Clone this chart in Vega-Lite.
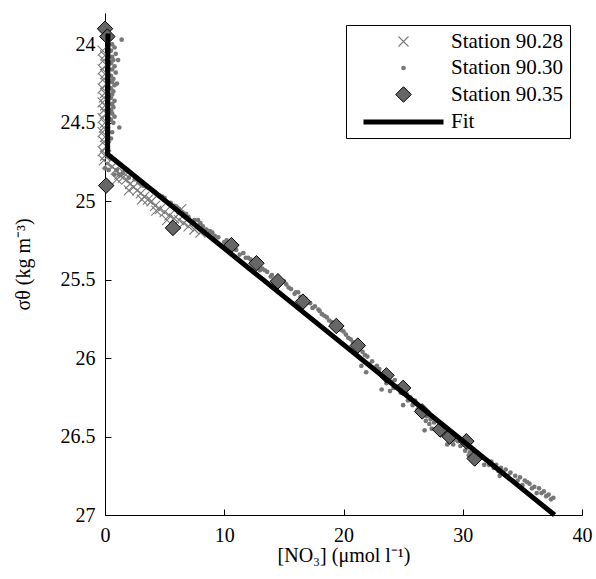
{
  "$schema": "https://vega.github.io/schema/vega-lite/v6.json",
  "width": 477,
  "height": 502,
  "autosize": {"type": "none"},
  "padding": {"left": 105, "top": 13, "right": 14, "bottom": 64},
  "background": "white",
  "config": {
    "view": {"stroke": null},
    "font": "Liberation Serif",
    "style": {
      "guide-label": {"font": "Liberation Serif", "fontSize": 20, "fill": "black"},
      "guide-title": {"font": "Liberation Serif", "fontSize": 20, "fill": "black", "fontWeight": "normal"}
    },
    "axis": {
      "grid": false,
      "domainColor": "black",
      "tickColor": "black",
      "labelColor": "black",
      "titleColor": "black",
      "labelFont": "Liberation Serif",
      "titleFont": "Liberation Serif",
      "labelFontSize": 20,
      "titleFontSize": 20,
      "titleFontWeight": "normal",
      "tickSize": -6,
      "domainWidth": 1,
      "tickWidth": 1
    },
    "legend": {
      "orient": "top-right",
      "offset": 12,
      "padding": 6,
      "strokeColor": "black",
      "fillColor": "white",
      "labelFont": "Liberation Serif",
      "labelFontSize": 21,
      "labelColor": "black",
      "labelLimit": 0,
      "rowPadding": 4.5,
      "symbolOffset": 39,
      "labelOffset": 35,
      "symbolOpacity": 1
    }
  },
  "datasets": {
    "points": [
      {"series": "Station 90.28", "no3": -0.2, "sigma": 24.04},
      {"series": "Station 90.28", "no3": 0.0, "sigma": 24.07},
      {"series": "Station 90.28", "no3": -0.1, "sigma": 24.10},
      {"series": "Station 90.28", "no3": 0.1, "sigma": 24.13},
      {"series": "Station 90.28", "no3": -0.2, "sigma": 24.16},
      {"series": "Station 90.28", "no3": 0.0, "sigma": 24.19},
      {"series": "Station 90.28", "no3": -0.1, "sigma": 24.22},
      {"series": "Station 90.28", "no3": 0.1, "sigma": 24.25},
      {"series": "Station 90.28", "no3": -0.2, "sigma": 24.28},
      {"series": "Station 90.28", "no3": 0.0, "sigma": 24.31},
      {"series": "Station 90.28", "no3": -0.1, "sigma": 24.34},
      {"series": "Station 90.28", "no3": -0.2, "sigma": 24.37},
      {"series": "Station 90.28", "no3": 0.0, "sigma": 24.39},
      {"series": "Station 90.28", "no3": -0.1, "sigma": 24.42},
      {"series": "Station 90.28", "no3": 0.1, "sigma": 24.44},
      {"series": "Station 90.28", "no3": -0.2, "sigma": 24.47},
      {"series": "Station 90.28", "no3": 0.0, "sigma": 24.50},
      {"series": "Station 90.28", "no3": -0.1, "sigma": 24.53},
      {"series": "Station 90.28", "no3": -0.2, "sigma": 24.56},
      {"series": "Station 90.28", "no3": 0.0, "sigma": 24.59},
      {"series": "Station 90.28", "no3": -0.1, "sigma": 24.62},
      {"series": "Station 90.28", "no3": 0.1, "sigma": 24.65},
      {"series": "Station 90.28", "no3": -0.2, "sigma": 24.68},
      {"series": "Station 90.28", "no3": 0.0, "sigma": 24.71},
      {"series": "Station 90.28", "no3": -0.1, "sigma": 24.74},
      {"series": "Station 90.28", "no3": 0.2, "sigma": 24.76},
      {"series": "Station 90.28", "no3": 0.6, "sigma": 24.78},
      {"series": "Station 90.28", "no3": 0.9, "sigma": 24.80},
      {"series": "Station 90.28", "no3": 1.2, "sigma": 24.83},
      {"series": "Station 90.28", "no3": 1.5, "sigma": 24.85},
      {"series": "Station 90.28", "no3": 1.8, "sigma": 24.86},
      {"series": "Station 90.28", "no3": 2.1, "sigma": 24.89},
      {"series": "Station 90.28", "no3": 2.4, "sigma": 24.91},
      {"series": "Station 90.28", "no3": 2.7, "sigma": 24.93},
      {"series": "Station 90.28", "no3": 3.0, "sigma": 24.95},
      {"series": "Station 90.28", "no3": 3.3, "sigma": 24.97},
      {"series": "Station 90.28", "no3": 3.6, "sigma": 24.99},
      {"series": "Station 90.28", "no3": 3.9, "sigma": 25.00},
      {"series": "Station 90.28", "no3": 4.2, "sigma": 25.03},
      {"series": "Station 90.28", "no3": 4.6, "sigma": 25.05},
      {"series": "Station 90.28", "no3": 5.0, "sigma": 25.07},
      {"series": "Station 90.28", "no3": 5.4, "sigma": 25.09},
      {"series": "Station 90.28", "no3": 5.8, "sigma": 25.11},
      {"series": "Station 90.28", "no3": 6.2, "sigma": 25.12},
      {"series": "Station 90.28", "no3": 6.6, "sigma": 25.14},
      {"series": "Station 90.28", "no3": 7.0, "sigma": 25.16},
      {"series": "Station 90.28", "no3": 7.5, "sigma": 25.18},
      {"series": "Station 90.28", "no3": 8.0, "sigma": 25.20},
      {"series": "Station 90.28", "no3": 1.0, "sigma": 24.86},
      {"series": "Station 90.28", "no3": 2.0, "sigma": 24.93},
      {"series": "Station 90.28", "no3": 3.1, "sigma": 24.99},
      {"series": "Station 90.28", "no3": 4.3, "sigma": 25.06},
      {"series": "Station 90.28", "no3": 5.2, "sigma": 25.12},
      {"series": "Station 90.28", "no3": 6.4, "sigma": 25.05},
      {"series": "Station 90.28", "no3": 1.6, "sigma": 24.82},
      {"series": "Station 90.30", "no3": 0.5, "sigma": 23.96},
      {"series": "Station 90.30", "no3": 1.4, "sigma": 23.97},
      {"series": "Station 90.30", "no3": 0.6, "sigma": 24.00},
      {"series": "Station 90.30", "no3": 0.8, "sigma": 24.02},
      {"series": "Station 90.30", "no3": 0.5, "sigma": 24.04},
      {"series": "Station 90.30", "no3": 0.9, "sigma": 24.06},
      {"series": "Station 90.30", "no3": 0.6, "sigma": 24.08},
      {"series": "Station 90.30", "no3": 0.7, "sigma": 24.10},
      {"series": "Station 90.30", "no3": 0.5, "sigma": 24.12},
      {"series": "Station 90.30", "no3": 0.8, "sigma": 24.14},
      {"series": "Station 90.30", "no3": 0.6, "sigma": 24.16},
      {"series": "Station 90.30", "no3": 0.9, "sigma": 24.18},
      {"series": "Station 90.30", "no3": 0.5, "sigma": 24.20},
      {"series": "Station 90.30", "no3": 0.7, "sigma": 24.22},
      {"series": "Station 90.30", "no3": 0.6, "sigma": 24.24},
      {"series": "Station 90.30", "no3": 0.8, "sigma": 24.26},
      {"series": "Station 90.30", "no3": 0.5, "sigma": 24.28},
      {"series": "Station 90.30", "no3": 0.7, "sigma": 24.30},
      {"series": "Station 90.30", "no3": 0.6, "sigma": 24.32},
      {"series": "Station 90.30", "no3": 0.5, "sigma": 24.34},
      {"series": "Station 90.30", "no3": 0.8, "sigma": 24.36},
      {"series": "Station 90.30", "no3": 0.6, "sigma": 24.38},
      {"series": "Station 90.30", "no3": 0.7, "sigma": 24.40},
      {"series": "Station 90.30", "no3": 0.5, "sigma": 24.42},
      {"series": "Station 90.30", "no3": 0.6, "sigma": 24.44},
      {"series": "Station 90.30", "no3": 0.8, "sigma": 24.46},
      {"series": "Station 90.30", "no3": 0.5, "sigma": 24.48},
      {"series": "Station 90.30", "no3": 0.7, "sigma": 24.50},
      {"series": "Station 90.30", "no3": 1.2, "sigma": 24.53},
      {"series": "Station 90.30", "no3": 0.6, "sigma": 24.56},
      {"series": "Station 90.30", "no3": 0.5, "sigma": 24.60},
      {"series": "Station 90.30", "no3": 1.1, "sigma": 24.10},
      {"series": "Station 90.30", "no3": 1.0, "sigma": 24.25},
      {"series": "Station 90.30", "no3": 0.0, "sigma": 24.79},
      {"series": "Station 90.30", "no3": 0.3, "sigma": 24.80},
      {"series": "Station 90.30", "no3": 0.8, "sigma": 24.83},
      {"series": "Station 90.30", "no3": 1.0, "sigma": 24.80},
      {"series": "Station 90.30", "no3": 1.5, "sigma": 24.82},
      {"series": "Station 90.30", "no3": 2.0, "sigma": 24.85},
      {"series": "Station 90.30", "no3": 2.5, "sigma": 24.86},
      {"series": "Station 90.30", "no3": 3.0, "sigma": 24.89},
      {"series": "Station 90.30", "no3": 3.5, "sigma": 24.91},
      {"series": "Station 90.30", "no3": 4.0, "sigma": 24.93},
      {"series": "Station 90.30", "no3": 4.5, "sigma": 24.96},
      {"series": "Station 90.30", "no3": 5.0, "sigma": 24.98},
      {"series": "Station 90.30", "no3": 5.5, "sigma": 25.01},
      {"series": "Station 90.30", "no3": 6.0, "sigma": 25.04},
      {"series": "Station 90.30", "no3": 6.5, "sigma": 25.07},
      {"series": "Station 90.30", "no3": 7.0, "sigma": 25.10},
      {"series": "Station 90.30", "no3": 7.5, "sigma": 25.12},
      {"series": "Station 90.30", "no3": 8.0, "sigma": 25.14},
      {"series": "Station 90.30", "no3": 8.5, "sigma": 25.18},
      {"series": "Station 90.30", "no3": 9.0, "sigma": 25.20},
      {"series": "Station 90.30", "no3": 9.5, "sigma": 25.23},
      {"series": "Station 90.30", "no3": 10.0, "sigma": 25.26},
      {"series": "Station 90.30", "no3": 10.5, "sigma": 25.28},
      {"series": "Station 90.30", "no3": 11.0, "sigma": 25.31},
      {"series": "Station 90.30", "no3": 11.3, "sigma": 25.34},
      {"series": "Station 90.30", "no3": 11.6, "sigma": 25.33},
      {"series": "Station 90.30", "no3": 12.0, "sigma": 25.36},
      {"series": "Station 90.30", "no3": 12.4, "sigma": 25.39},
      {"series": "Station 90.30", "no3": 12.8, "sigma": 25.41},
      {"series": "Station 90.30", "no3": 13.2, "sigma": 25.43},
      {"series": "Station 90.30", "no3": 13.6, "sigma": 25.45},
      {"series": "Station 90.30", "no3": 14.0, "sigma": 25.47},
      {"series": "Station 90.30", "no3": 14.4, "sigma": 25.49},
      {"series": "Station 90.30", "no3": 14.8, "sigma": 25.51},
      {"series": "Station 90.30", "no3": 15.2, "sigma": 25.53},
      {"series": "Station 90.30", "no3": 15.6, "sigma": 25.56},
      {"series": "Station 90.30", "no3": 16.0, "sigma": 25.58},
      {"series": "Station 90.30", "no3": 16.4, "sigma": 25.61},
      {"series": "Station 90.30", "no3": 16.8, "sigma": 25.62},
      {"series": "Station 90.30", "no3": 17.2, "sigma": 25.65},
      {"series": "Station 90.30", "no3": 17.6, "sigma": 25.67},
      {"series": "Station 90.30", "no3": 18.0, "sigma": 25.70},
      {"series": "Station 90.30", "no3": 18.4, "sigma": 25.73},
      {"series": "Station 90.30", "no3": 18.8, "sigma": 25.76},
      {"series": "Station 90.30", "no3": 19.2, "sigma": 25.78},
      {"series": "Station 90.30", "no3": 19.6, "sigma": 25.80},
      {"series": "Station 90.30", "no3": 20.0, "sigma": 25.83},
      {"series": "Station 90.30", "no3": 20.4, "sigma": 25.87},
      {"series": "Station 90.30", "no3": 20.8, "sigma": 25.90},
      {"series": "Station 90.30", "no3": 21.2, "sigma": 25.93},
      {"series": "Station 90.30", "no3": 21.6, "sigma": 25.96},
      {"series": "Station 90.30", "no3": 21.5, "sigma": 26.05},
      {"series": "Station 90.30", "no3": 21.9, "sigma": 26.09},
      {"series": "Station 90.30", "no3": 22.0, "sigma": 25.99},
      {"series": "Station 90.30", "no3": 22.4, "sigma": 26.02},
      {"series": "Station 90.30", "no3": 22.8, "sigma": 26.05},
      {"series": "Station 90.30", "no3": 23.0, "sigma": 26.07},
      {"series": "Station 90.30", "no3": 23.2, "sigma": 26.20},
      {"series": "Station 90.30", "no3": 23.4, "sigma": 26.09},
      {"series": "Station 90.30", "no3": 23.8, "sigma": 26.11},
      {"series": "Station 90.30", "no3": 23.9, "sigma": 26.21},
      {"series": "Station 90.30", "no3": 24.0, "sigma": 26.15},
      {"series": "Station 90.30", "no3": 24.3, "sigma": 26.14},
      {"series": "Station 90.30", "no3": 24.6, "sigma": 26.18},
      {"series": "Station 90.30", "no3": 25.0, "sigma": 26.30},
      {"series": "Station 90.30", "no3": 25.0, "sigma": 26.21},
      {"series": "Station 90.30", "no3": 25.3, "sigma": 26.23},
      {"series": "Station 90.30", "no3": 25.6, "sigma": 26.25},
      {"series": "Station 90.30", "no3": 26.0, "sigma": 26.27},
      {"series": "Station 90.30", "no3": 26.3, "sigma": 26.31},
      {"series": "Station 90.30", "no3": 26.6, "sigma": 26.35},
      {"series": "Station 90.30", "no3": 26.8, "sigma": 26.46},
      {"series": "Station 90.30", "no3": 27.0, "sigma": 26.37},
      {"series": "Station 90.30", "no3": 27.3, "sigma": 26.39},
      {"series": "Station 90.30", "no3": 27.4, "sigma": 26.45},
      {"series": "Station 90.30", "no3": 27.6, "sigma": 26.41},
      {"series": "Station 90.30", "no3": 28.0, "sigma": 26.44},
      {"series": "Station 90.30", "no3": 28.3, "sigma": 26.46},
      {"series": "Station 90.30", "no3": 28.6, "sigma": 26.48},
      {"series": "Station 90.30", "no3": 28.7, "sigma": 26.55},
      {"series": "Station 90.30", "no3": 29.0, "sigma": 26.50},
      {"series": "Station 90.30", "no3": 29.3, "sigma": 26.52},
      {"series": "Station 90.30", "no3": 29.6, "sigma": 26.53},
      {"series": "Station 90.30", "no3": 30.0, "sigma": 26.55},
      {"series": "Station 90.30", "no3": 30.4, "sigma": 26.57},
      {"series": "Station 90.30", "no3": 30.5, "sigma": 26.62},
      {"series": "Station 90.30", "no3": 30.8, "sigma": 26.59},
      {"series": "Station 90.30", "no3": 31.2, "sigma": 26.61},
      {"series": "Station 90.30", "no3": 31.6, "sigma": 26.63},
      {"series": "Station 90.30", "no3": 31.8, "sigma": 26.68},
      {"series": "Station 90.30", "no3": 32.0, "sigma": 26.65},
      {"series": "Station 90.30", "no3": 32.4, "sigma": 26.66},
      {"series": "Station 90.30", "no3": 32.8, "sigma": 26.68},
      {"series": "Station 90.30", "no3": 33.1, "sigma": 26.75},
      {"series": "Station 90.30", "no3": 33.2, "sigma": 26.70},
      {"series": "Station 90.30", "no3": 33.6, "sigma": 26.71},
      {"series": "Station 90.30", "no3": 34.0, "sigma": 26.73},
      {"series": "Station 90.30", "no3": 34.2, "sigma": 26.78},
      {"series": "Station 90.30", "no3": 34.4, "sigma": 26.75},
      {"series": "Station 90.30", "no3": 34.8, "sigma": 26.76},
      {"series": "Station 90.30", "no3": 35.0, "sigma": 26.81},
      {"series": "Station 90.30", "no3": 35.2, "sigma": 26.78},
      {"series": "Station 90.30", "no3": 35.6, "sigma": 26.80},
      {"series": "Station 90.30", "no3": 36.0, "sigma": 26.82},
      {"series": "Station 90.30", "no3": 36.2, "sigma": 26.86},
      {"series": "Station 90.30", "no3": 36.4, "sigma": 26.83},
      {"series": "Station 90.30", "no3": 36.8, "sigma": 26.85},
      {"series": "Station 90.30", "no3": 37.2, "sigma": 26.87},
      {"series": "Station 90.30", "no3": 37.6, "sigma": 26.89},
      {"series": "Station 90.30", "no3": 10.2, "sigma": 25.25},
      {"series": "Station 90.30", "no3": 10.8, "sigma": 25.30},
      {"series": "Station 90.30", "no3": 11.8, "sigma": 25.36},
      {"series": "Station 90.30", "no3": 12.2, "sigma": 25.37},
      {"series": "Station 90.30", "no3": 13.0, "sigma": 25.44},
      {"series": "Station 90.30", "no3": 13.4, "sigma": 25.44},
      {"series": "Station 90.30", "no3": 13.9, "sigma": 25.48},
      {"series": "Station 90.30", "no3": 14.6, "sigma": 25.52},
      {"series": "Station 90.30", "no3": 15.0, "sigma": 25.51},
      {"series": "Station 90.30", "no3": 15.4, "sigma": 25.55},
      {"series": "Station 90.30", "no3": 15.9, "sigma": 25.59},
      {"series": "Station 90.30", "no3": 16.2, "sigma": 25.58},
      {"series": "Station 90.30", "no3": 17.0, "sigma": 25.64},
      {"series": "Station 90.30", "no3": 17.4, "sigma": 25.68},
      {"series": "Station 90.30", "no3": 17.9, "sigma": 25.69},
      {"series": "Station 90.30", "no3": 18.2, "sigma": 25.72},
      {"series": "Station 90.30", "no3": 18.6, "sigma": 25.74},
      {"series": "Station 90.30", "no3": 19.0, "sigma": 25.77},
      {"series": "Station 90.30", "no3": 19.8, "sigma": 25.82},
      {"series": "Station 90.30", "no3": 20.2, "sigma": 25.85},
      {"series": "Station 90.30", "no3": 20.6, "sigma": 25.88},
      {"series": "Station 90.30", "no3": 21.0, "sigma": 25.92},
      {"series": "Station 90.30", "no3": 21.8, "sigma": 25.98},
      {"series": "Station 90.30", "no3": 22.2, "sigma": 26.04},
      {"series": "Station 90.30", "no3": 22.6, "sigma": 26.06},
      {"series": "Station 90.30", "no3": 23.6, "sigma": 26.16},
      {"series": "Station 90.30", "no3": 24.2, "sigma": 26.19},
      {"series": "Station 90.30", "no3": 24.8, "sigma": 26.22},
      {"series": "Station 90.30", "no3": 25.4, "sigma": 26.27},
      {"series": "Station 90.30", "no3": 25.8, "sigma": 26.30},
      {"series": "Station 90.30", "no3": 26.2, "sigma": 26.33},
      {"series": "Station 90.30", "no3": 26.9, "sigma": 26.40},
      {"series": "Station 90.30", "no3": 27.2, "sigma": 26.42},
      {"series": "Station 90.30", "no3": 27.8, "sigma": 26.46},
      {"series": "Station 90.30", "no3": 28.2, "sigma": 26.49},
      {"series": "Station 90.30", "no3": 28.8, "sigma": 26.51},
      {"series": "Station 90.30", "no3": 29.2, "sigma": 26.55},
      {"series": "Station 90.30", "no3": 29.8, "sigma": 26.56},
      {"series": "Station 90.30", "no3": 30.2, "sigma": 26.59},
      {"series": "Station 90.30", "no3": 30.6, "sigma": 26.60},
      {"series": "Station 90.30", "no3": 31.0, "sigma": 26.63},
      {"series": "Station 90.30", "no3": 31.4, "sigma": 26.64},
      {"series": "Station 90.30", "no3": 32.2, "sigma": 26.68},
      {"series": "Station 90.30", "no3": 32.6, "sigma": 26.70},
      {"series": "Station 90.30", "no3": 33.0, "sigma": 26.72},
      {"series": "Station 90.30", "no3": 33.4, "sigma": 26.73},
      {"series": "Station 90.30", "no3": 33.8, "sigma": 26.75},
      {"series": "Station 90.30", "no3": 34.6, "sigma": 26.78},
      {"series": "Station 90.30", "no3": 35.4, "sigma": 26.79},
      {"series": "Station 90.30", "no3": 35.8, "sigma": 26.83},
      {"series": "Station 90.30", "no3": 36.6, "sigma": 26.86},
      {"series": "Station 90.30", "no3": 37.0, "sigma": 26.88},
      {"series": "Station 90.30", "no3": 37.4, "sigma": 26.90},
      {"series": "Station 90.30", "no3": 9.2, "sigma": 25.22},
      {"series": "Station 90.30", "no3": 8.8, "sigma": 25.19},
      {"series": "Station 90.30", "no3": 8.2, "sigma": 25.16},
      {"series": "Station 90.30", "no3": 7.8, "sigma": 25.12},
      {"series": "Station 90.30", "no3": 6.8, "sigma": 25.08},
      {"series": "Station 90.30", "no3": 6.2, "sigma": 25.05},
      {"series": "Station 90.30", "no3": 5.8, "sigma": 25.03},
      {"series": "Station 90.30", "no3": 4.8, "sigma": 24.97},
      {"series": "Station 90.30", "no3": 4.2, "sigma": 24.94},
      {"series": "Station 90.30", "no3": 3.2, "sigma": 24.90},
      {"series": "Station 90.30", "no3": 2.8, "sigma": 24.88},
      {"series": "Station 90.30", "no3": 1.2, "sigma": 24.83},
      {"series": "Station 90.35", "no3": 0.0, "sigma": 23.90},
      {"series": "Station 90.35", "no3": 0.2, "sigma": 23.95},
      {"series": "Station 90.35", "no3": 0.1, "sigma": 24.90},
      {"series": "Station 90.35", "no3": 5.7, "sigma": 25.17},
      {"series": "Station 90.35", "no3": 10.6, "sigma": 25.28},
      {"series": "Station 90.35", "no3": 12.7, "sigma": 25.395},
      {"series": "Station 90.35", "no3": 14.5, "sigma": 25.51},
      {"series": "Station 90.35", "no3": 16.6, "sigma": 25.64},
      {"series": "Station 90.35", "no3": 19.4, "sigma": 25.795},
      {"series": "Station 90.35", "no3": 21.2, "sigma": 25.92},
      {"series": "Station 90.35", "no3": 23.6, "sigma": 26.11},
      {"series": "Station 90.35", "no3": 25.0, "sigma": 26.19},
      {"series": "Station 90.35", "no3": 26.6, "sigma": 26.34},
      {"series": "Station 90.35", "no3": 28.1, "sigma": 26.455},
      {"series": "Station 90.35", "no3": 28.9, "sigma": 26.50},
      {"series": "Station 90.35", "no3": 30.3, "sigma": 26.53},
      {"series": "Station 90.35", "no3": 31.0, "sigma": 26.64}
    ],
    "fit": [
      {"i": 1, "no3": 0.25, "sigma": 23.93},
      {"i": 2, "no3": 0.22, "sigma": 24.70},
      {"i": 3, "no3": 37.7, "sigma": 27.0}
    ]
  },
  "layer": [
    {
      "data": {"name": "points"},
      "mark": {"type": "point", "opacity": 1},
      "encoding": {
        "x": {
          "field": "no3", "type": "quantitative",
          "scale": {"domain": [0, 40], "nice": false, "zero": false},
          "axis": {"values": [0, 10, 20, 30, 40], "title": "[NO₃] (μmol l⁻¹)", "labelFlush": false, "labelPadding": 16, "titlePadding": 0, "labelExpr": "'' + datum.value", "labelFont": "Liberation Serif", "titleFont": "Liberation Serif"}
        },
        "y": {
          "field": "sigma", "type": "quantitative",
          "scale": {"domain": [23.8, 27], "nice": false, "zero": false, "reverse": true},
          "axis": {"values": [24, 24.5, 25, 25.5, 26, 26.5, 27], "title": "σθ (kg m⁻³)", "labelPadding": 16, "titlePadding": 27, "labelExpr": "'' + datum.value", "labelFont": "Liberation Serif", "titleFont": "Liberation Serif"}
        },
        "shape": {
          "field": "series", "type": "nominal",
          "scale": {"type": "ordinal", "domain": ["Station 90.28", "Station 90.30", "Station 90.35", "Fit"], "range": ["M-1,-1L1,1M-1,1L1,-1", "circle", "diamond", "M-4,0H4"]},
          "legend": {"title": null, "labelFont": "Liberation Serif"}
        },
        "fill": {
          "field": "series", "type": "nominal",
          "scale": {"type": "ordinal", "domain": ["Station 90.28", "Station 90.30", "Station 90.35", "Fit"], "range": ["transparent", "#777777", "#666666", "black"]},
          "legend": {"title": null}
        },
        "stroke": {
          "field": "series", "type": "nominal",
          "scale": {"type": "ordinal", "domain": ["Station 90.28", "Station 90.30", "Station 90.35", "Fit"], "range": ["#7a7a7a", "#777777", "black", "black"]},
          "legend": {"title": null}
        },
        "size": {
          "field": "series", "type": "nominal",
          "scale": {"type": "ordinal", "domain": ["Station 90.28", "Station 90.30", "Station 90.35", "Fit"], "range": [100, 22, 240, 400]},
          "legend": {"title": null}
        },
        "strokeWidth": {
          "field": "series", "type": "nominal",
          "scale": {"type": "ordinal", "domain": ["Station 90.28", "Station 90.30", "Station 90.35", "Fit"], "range": [1.1, 0, 1, 5]},
          "legend": {"title": null}
        }
      }
    },
    {
      "data": {"name": "fit"},
      "mark": {"type": "line", "color": "black", "strokeWidth": 5, "strokeJoin": "miter"},
      "encoding": {
        "x": {"field": "no3", "type": "quantitative"},
        "y": {"field": "sigma", "type": "quantitative"},
        "order": {"field": "i", "type": "quantitative"}
      }
    }
  ]
}
